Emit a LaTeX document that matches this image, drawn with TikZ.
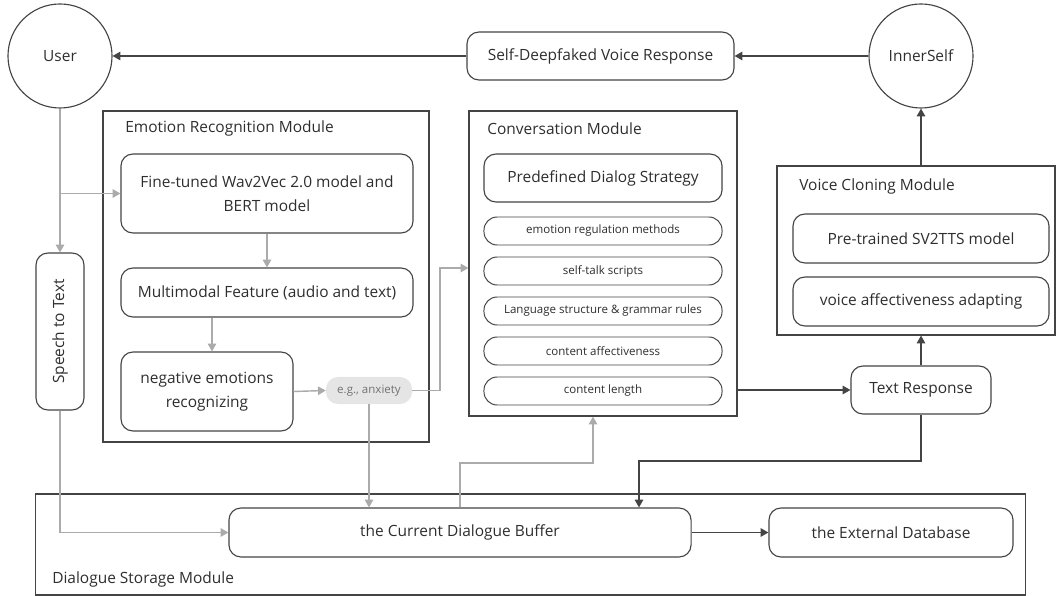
\documentclass[tikz,border=0pt]{standalone}
\usepackage{fontspec}
\setmainfont{Open Sans}
\usepackage{tikz}
\usetikzlibrary{arrows.meta,positioning}
\usepackage{xcolor}
\definecolor{darkline}{HTML}{444444}
\definecolor{lightline}{HTML}{ABABAB}
\definecolor{txt}{HTML}{2E2E2E}

\begin{document}
\begin{tikzpicture}[x=0.025cm, y=-0.025cm,
    every node/.style={text=txt, font=\fontsize{11}{14}\selectfont, inner sep=0pt},
    actor/.style={circle, draw=darkline, line width=0.8pt, minimum size=2.6cm},
    box/.style={rectangle, rounded corners=0.3cm, draw=darkline, line width=0.8pt, align=center},
    pill/.style={rectangle, rounded corners=0.33cm, draw=darkline, line width=0.7pt, minimum width=5.95cm, minimum height=0.7cm, font=\fontsize{8.2}{10}\selectfont},
    frame/.style={rectangle, draw=darkline, line width=0.8pt},
    title/.style={anchor=west},
    darkarrow/.style={draw=darkline, line width=1pt, -{Triangle[length=5.5pt,width=6pt]}},
    greyarrow/.style={draw=lightline, line width=1pt, -{Triangle[length=5.5pt,width=6pt]}}]
     \useasboundingbox (0,0) rectangle (1057,596);

     % module frames
     \node[frame, minimum width=8.15cm, minimum height=8.275cm] (emod) at (266,276.5) {};
     \node[frame, minimum width=6.7cm, minimum height=7.625cm] (conv) at (603,263.5) {};
     \node[frame, minimum width=6.95cm, minimum height=4.225cm] (voice) at (916,250.5) {};
     \node[frame, minimum width=24.725cm, minimum height=2.525cm] (store) at (530.5,544.5) {};
     \node[title] (emodtitle) at (125,128) {Emotion Recognition Module};
     \node[title] (convtitle) at (487,129) {Conversation Module};
     \node[title] (voicetitle) at (799,186) {Voice Cloning Module};
     \node[title] (storetitle) at (52,579) {Dialogue Storage Module};

     % top row
     \node[actor] (user) at (60,56) {User};
     \node[actor] (inner) at (921,56) {InnerSelf};
     \node[box, minimum width=6.675cm, minimum height=1.2cm] (selfdeep) at (600.5,56) {Self-Deepfaked Voice Response};

     % emotion recognition
     \node[box, minimum width=7.3cm, minimum height=1.975cm] (finetuned) at (267,193.5) {Fine-tuned Wav2Vec 2.0 model and\\[3pt]BERT model};
     \node[box, minimum width=7.3cm, minimum height=1.225cm] (multimodal) at (267,292.5) {Multimodal Feature (audio and text)};
     \node[box, minimum width=4.3cm, minimum height=1.975cm] (negative) at (207,391.5) {negative emotions\\[3pt]recognizing};
     \node[rectangle, rounded corners=0.3cm, fill=black!10, text=black!55, minimum width=2.15cm, minimum height=0.675cm, font=\fontsize{8.2}{10}\selectfont] (anxiety) at (369,390.5) {e.g., anxiety};
     \node[box, rotate=90, minimum width=3.925cm, minimum height=1.2cm] (speech) at (60,331.5) {Speech to Text};

     % conversation
     \node[box, minimum width=5.95cm, minimum height=1.2cm] (strategy) at (603,178) {Predefined Dialog Strategy};
     \node[pill] (regulation) at (603,231) {emotion regulation methods};
     \node[pill] (selftalk) at (603,271) {self-talk scripts};
     \node[pill] (grammar) at (603,311) {Language structure \& grammar rules};
     \node[pill] (affect) at (603,351) {content affectiveness};
     \node[pill] (length) at (603,391) {content length};

     % voice cloning
     \node[box, minimum width=6.4cm, minimum height=1.225cm] (sv2tts) at (921,238.5) {Pre-trained SV2TTS model};
     \node[box, minimum width=6.4cm, minimum height=1.225cm] (voiceaff) at (921,301.5) {voice affectiveness adapting};
     \node[box, minimum width=3.5cm, minimum height=1.2cm] (textresp) at (921,390) {Text Response};

     % storage
     \node[box, minimum width=11.55cm, minimum height=1.225cm] (buffer) at (460,532.5) {the Current Dialogue Buffer};
     \node[box, minimum width=6.1cm, minimum height=1.225cm] (extdb) at (891,532.5) {the External Database};

     \coordinate (bendA) at (440,268);
     \coordinate (bendB) at (593,463);
     \coordinate (bendC) at (639,461);

     % connectors
     \draw[darkarrow] (selfdeep.west) -- (user.east);
     \draw[darkarrow] (inner.west) -- (selfdeep.east);
     \draw[greyarrow] (user.south) -- (speech.east);
     \draw[greyarrow] (user.south |- finetuned.west) -- (finetuned.west);
     \draw[greyarrow] (finetuned.south) -- (multimodal.north);
     \draw[greyarrow] ([xshift=0.125cm]negative.north |- multimodal.south) -- ([xshift=0.125cm]negative.north);
     \draw[greyarrow] (negative.east) -- (anxiety.west);
     \draw[greyarrow] (anxiety.east) -| (bendA) -- (bendA -| conv.west);
     \draw[greyarrow] (anxiety.south) -- (anxiety.south |- buffer.north);
     \draw[greyarrow] (speech.west) |- (buffer.west);
     \draw[greyarrow] (buffer.north) |- (bendB) -- (bendB |- conv.south);
     \draw[darkarrow] (conv.east |- textresp.west) -- (textresp.west);
     \draw[darkarrow] (textresp.north) -- (textresp.north |- voice.south);
     \draw[darkarrow] (inner.south |- voice.north) -- (inner.south);
     \draw[darkarrow] (textresp.south) |- (bendC) -- (bendC |- buffer.north);
     \draw[darkarrow] (buffer.east) -- (extdb.west);
	\end{tikzpicture}
\end{document}
